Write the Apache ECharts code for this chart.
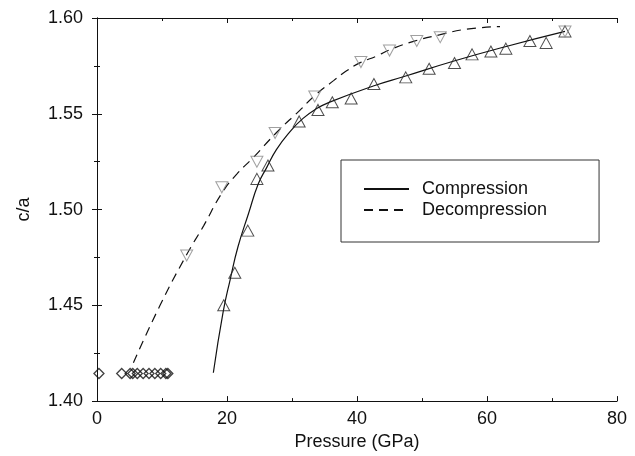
<!DOCTYPE html>
<html>
<head>
<meta charset="utf-8">
<script src="https://cdn.jsdelivr.net/npm/echarts@6/dist/echarts.min.js"></script>
<style>
html,body{margin:0;padding:0;background:#fff;}
#chart{width:635px;height:456px;}
</style>
</head>
<body>
<div id="chart"></div>
<script>
// Compression measured points (up triangles)
const compP = [19.5, 21.2, 23.2, 24.6, 26.3, 31.1, 34.0, 36.2, 39.1, 42.6, 47.5, 51.1, 55.0, 57.7, 60.6, 62.9, 66.6, 69.1, 72.0];
const compCA = [1.450, 1.467, 1.489, 1.516, 1.523, 1.546, 1.552, 1.556, 1.558, 1.5655, 1.569, 1.5735, 1.5765, 1.581, 1.5825, 1.584, 1.588, 1.587, 1.593];
// Decompression measured points (down triangles)
const decP = [72.0, 52.8, 49.2, 45.0, 40.6, 33.5, 27.4, 24.6, 19.2, 13.8];
const decCA = [1.593, 1.590, 1.588, 1.583, 1.577, 1.559, 1.540, 1.525, 1.5116, 1.476];
// Ambient points (diamonds)
const ambP = [0.3, 3.8, 5.1, 5.5, 6.2, 7.1, 8.0, 8.9, 9.8, 10.6, 10.9];
const ambCA = [1.4144, 1.4144, 1.4144, 1.4144, 1.4144, 1.4144, 1.4144, 1.4144, 1.4144, 1.4144, 1.4144];
// Compression fit curve
const compFitP = [17.9, 19.4, 20.5, 21.7, 23.3, 24.8, 26.1, 27.6, 29.7, 31.7, 33.8, 35.8, 42.5, 47.5, 54.8, 62.8, 72.0];
const compFitCA = [1.4148, 1.4464, 1.4636, 1.4807, 1.4978, 1.5133, 1.5219, 1.5313, 1.5407, 1.5476, 1.5527, 1.5561, 1.5645, 1.5697, 1.5774, 1.585, 1.593];
// Decompression fit curve
const decFitP = [5.6, 9.7, 13.8, 16.4, 19.2, 21.5, 24.0, 27.7, 31.2, 33.5, 36.4, 38.4, 40.5, 43.0, 45.1, 48.7, 52.8, 56.9, 62.0];
const decFitCA = [1.420, 1.450, 1.4765, 1.4915, 1.5085, 1.5185, 1.527, 1.5405, 1.5518, 1.5595, 1.5673, 1.5724, 1.5767, 1.5801, 1.5835, 1.5878, 1.5913, 1.5942, 1.5955];
// Axis ticks
const xTicks = [0, 20, 40, 60, 80];
const yTicks = [1.40, 1.45, 1.50, 1.55, 1.60];

const zip = (a, b) => a.map((v, i) => [v, b[i]]);
const FONT = '"Liberation Sans", Arial, Helvetica, sans-serif';
const INK = '#111';

const chart = echarts.init(document.getElementById('chart'), null, {renderer: 'canvas'});

const axisCommon = {
  axisLine: {show: true, lineStyle: {color: INK, width: 1}},
  axisTick: {show: true, inside: true, length: 5, lineStyle: {color: INK}},
  minorTick: {show: true, splitNumber: 2, length: 3, lineStyle: {color: INK}},
  splitLine: {show: false},
  minorSplitLine: {show: false}
};

const option = {
  backgroundColor: '#fff',
  animation: false,
  textStyle: {fontFamily: FONT, color: INK},
  grid: {left: 97, right: 18, top: 18, bottom: 49, containLabel: false},
  legend: {
    data: ['Compression', 'Decompression'],
    orient: 'vertical',
    left: 341,
    top: 160,
    padding: [20, 52, 23, 22],
    itemWidth: 45,
    itemHeight: 20,
    itemGap: 3,
    borderColor: '#333',
    borderWidth: 1,
    selectedMode: false,
    itemStyle: {opacity: 0},
    lineStyle: {opacity: 1},
    textStyle: {fontFamily: FONT, fontSize: 18, color: INK, padding: [0, 0, 0, 8]}
  },
  xAxis: [
    Object.assign({
      type: 'value', min: xTicks[0], max: xTicks[xTicks.length - 1], interval: 20,
      name: 'Pressure (GPa)', nameLocation: 'middle', nameGap: 24,
      nameTextStyle: {fontFamily: FONT, fontSize: 18, color: INK},
      axisLabel: {fontFamily: FONT, fontSize: 18, color: INK, margin: 9}
    }, axisCommon),
    Object.assign({
      type: 'value', position: 'top', min: xTicks[0], max: xTicks[xTicks.length - 1], interval: 20,
      axisLabel: {show: false}
    }, axisCommon)
  ],
  yAxis: [
    Object.assign({
      type: 'value', min: yTicks[0], max: yTicks[yTicks.length - 1], interval: 0.05,
      name: 'c/a', nameLocation: 'middle', nameGap: 64,
      nameTextStyle: {fontFamily: FONT, fontSize: 18, color: INK},
      axisLabel: {fontFamily: FONT, fontSize: 18, color: INK, margin: 14,
        formatter: v => v.toFixed(2)}
    }, axisCommon),
    Object.assign({
      type: 'value', position: 'right', min: yTicks[0], max: yTicks[yTicks.length - 1], interval: 0.05,
      axisLabel: {show: false}
    }, axisCommon)
  ],
  series: [
    {
      name: 'Compression', type: 'line', smooth: 0.5, symbol: 'none',
      data: zip(compFitP, compFitCA),
      lineStyle: {color: INK, width: 1.2, type: 'solid'},
      itemStyle: {color: INK}, z: 3
    },
    {
      name: 'Decompression', type: 'line', smooth: 0.5, symbol: 'none',
      data: zip(decFitP, decFitCA),
      lineStyle: {color: INK, width: 1.2, type: [9, 6]},
      itemStyle: {color: INK}, z: 3
    },
    {
      name: 'Compression data', type: 'scatter', symbol: 'triangle', symbolSize: [12, 11],
      data: zip(compP, compCA),
      itemStyle: {color: 'rgba(255,255,255,0)', borderColor: '#222', borderWidth: 1}, z: 4
    },
    {
      name: 'Decompression data', type: 'scatter', symbol: 'triangle', symbolRotate: 180, symbolSize: [12, 11],
      data: zip(decP, decCA),
      itemStyle: {color: 'rgba(255,255,255,0)', borderColor: '#888', borderWidth: 1}, z: 4
    },
    {
      name: 'Ambient', type: 'scatter', symbol: 'diamond', symbolSize: [10, 10],
      data: zip(ambP, ambCA),
      itemStyle: {color: 'rgba(255,255,255,0)', borderColor: INK, borderWidth: 1.3}, z: 4
    }
  ]
};
chart.setOption(option);
</script>
</body>
</html>
